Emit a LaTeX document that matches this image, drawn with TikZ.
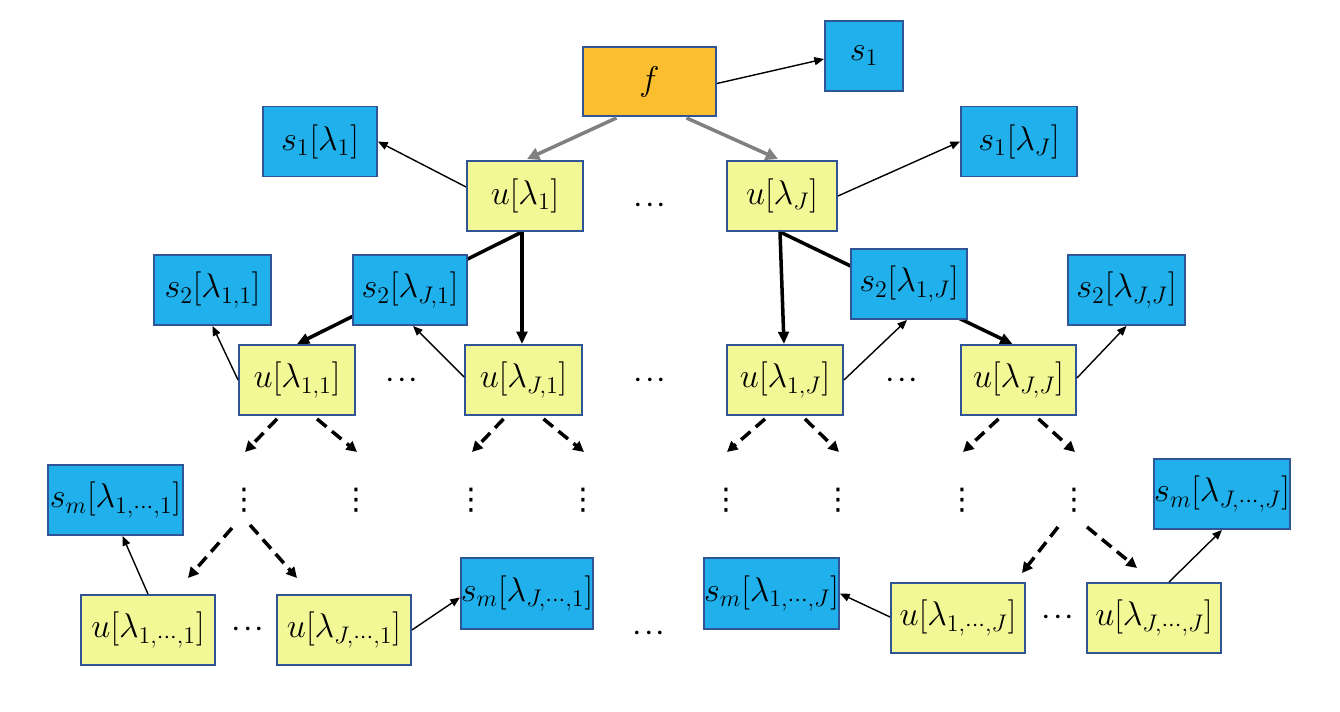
\RequirePackage{fix-cm}
\documentclass[tikz,border=0pt]{standalone}
\usepackage{amsmath}
\usepackage{fontspec}
\newfontfamily\symfont{DejaVu Sans}
\usepackage{xcolor}
\definecolor{BoxBorder}{RGB}{47,85,151}
\definecolor{FillSky}{RGB}{32,176,236}
\definecolor{FillLemon}{RGB}{242,248,150}
\definecolor{FillGold}{RGB}{251,190,46}
\definecolor{ArrowGray}{RGB}{128,128,128}
\usepackage{tikz}
\usetikzlibrary{
  arrows.meta,
  positioning, backgrounds
}
% tight dots
\newcommand{\rowdots}{{\cdot}\mkern1mu{\cdot}\mkern1mu{\cdot}}
\newcommand{\subdots}{{\cdot}{\cdot}{\cdot}}
\tikzset{
  % Generic box
  vbox/.style={
    rectangle,
    draw=BoxBorder, line width=1.1pt,
    minimum width=2.32cm, minimum height=1.4cm,
    inner sep=0pt,
    font=\fontsize{19.5}{23}\selectfont
  },
  % Colored box variants
  sbox/.style={vbox, fill=FillSky},
  ubox/.style={vbox, fill=FillLemon},
  topbox/.style={vbox, fill=FillGold, minimum width=2.66cm, minimum height=1.38cm},
  % Dots
  dotnode/.style={inner sep=0pt, font=\fontsize{19.5}{23}\selectfont},
  vdotnode/.style={inner sep=0pt, font=\fontsize{17}{20}\symfont},
  % Arrows
  arr/.style={-{Triangle[length=5.5pt,width=4.5pt]}, line width=0.8pt},
  barr/.style={-{Triangle[length=7pt,width=6pt]}, line width=2pt},
  garr/.style={-{Triangle[length=7pt,width=7pt]}, line width=2pt, ArrowGray},
  darr/.style={-{Triangle[length=6pt,width=6pt]}, line width=2pt, dash pattern=on 7pt off 4pt},
}

\begin{document}
\begin{tikzpicture}[x=0.02cm, y=-0.02cm]
  \useasboundingbox (0,0) rectangle (1340,712);

  % top
  \node[topbox] (f) at (649.5,81.5) {$f$};
  \node[sbox, minimum width=1.56cm] (s1) at (864,56) {$s_1$};
  \node[sbox, minimum width=2.28cm] (s1a) at (320,141.5) {$s_1[\lambda_1]$};
  \node[sbox] (s1b) at (1019,141.5) {$s_1[\lambda_J]$};
  \node[ubox] (u1) at (525,196) {$u[\lambda_1]$};
  \node[ubox, minimum width=2.2cm] (uJ) at (782,196) {$u[\lambda_J]$};
  \node[dotnode] (c0) at (650,206) {$\rowdots$};

  % second level
  \node[sbox, minimum width=2.34cm] (s2a) at (212.5,290) {$s_2[\lambda_{1,1}]$};
  \node[sbox, minimum width=2.28cm] (s2b) at (410,290) {$s_2[\lambda_{J,1}]$};
  \node[sbox] (s2c) at (909,284) {$s_2[\lambda_{1,J}]$};
  \node[sbox, minimum width=2.34cm] (s2d) at (1126.5,290) {$s_2[\lambda_{J,J}]$};
  \node[ubox] (u11) at (297,380) {$u[\lambda_{1,1}]$};
  \node[ubox, minimum width=2.34cm] (uJ1) at (523.5,380) {$u[\lambda_{J,1}]$};
  \node[ubox] (u1J) at (785,380) {$u[\lambda_{1,J}]$};
  \node[ubox, minimum width=2.3cm] (uJJ) at (1018.5,380) {$u[\lambda_{J,J}]$};
  \node[dotnode] (c1) at (402,381) {$\rowdots$};
  \node[dotnode] (c2) at (650,381) {$\rowdots$};
  \node[dotnode] (c3) at (902,381) {$\rowdots$};

  % vertical dots
  \foreach \n/\x in {1/244, 2/356, 3/471, 4/583, 5/726, 6/838, 7/962, 8/1074}
    \node[vdotnode] (d\n) at (\x,500) {⋮};

  % last level
  \node[sbox, minimum width=2.7cm] (sm1) at (115.5,500) {$s_m[\lambda_{1,\subdots,1}]$};
  \node[ubox, minimum width=2.68cm] (um1) at (148,630) {$u[\lambda_{1,\subdots,1}]$};
  \node[ubox, minimum width=2.68cm] (umJ1) at (344,630) {$u[\lambda_{J,\subdots,1}]$};
  \node[sbox, minimum width=2.64cm, minimum height=1.42cm] (smJ1) at (527,593.5) {$s_m[\lambda_{J,\subdots,1}]$};
  \node[sbox, minimum width=2.7cm, minimum height=1.42cm] (sm1J) at (771.5,593.5) {$s_m[\lambda_{1,\subdots,J}]$};
  \node[ubox, minimum width=2.68cm] (um1J) at (958,618) {$u[\lambda_{1,\subdots,J}]$};
  \node[ubox, minimum width=2.68cm] (umJJ) at (1154,618) {$u[\lambda_{J,\subdots,J}]$};
  \node[sbox, minimum width=2.68cm] (smJJ) at (1222,494) {$s_m[\lambda_{J,\subdots,J}]$};
  \node[dotnode] (c4) at (248,630) {$\rowdots$};
  \node[dotnode] (c5) at (649,634) {$\rowdots$};
  \node[dotnode] (c6) at (1058,618) {$\rowdots$};

  % arrows from f
  \draw[arr] ([shift={(0,2)}]f.east) -- ([shift={(0,3)}]s1.west);
  \draw[garr] ([shift={(-33,1)}]f.south) -- ([shift={(2,-1)}]u1.north);
  \draw[garr] ([shift={(37,1)}]f.south) -- ([shift={(-4,-1)}]uJ.north);
  \draw[arr] ([shift={(0,-9)}]u1.west) -- (s1a.east);
  \draw[arr] (uJ.east) -- (s1b.west);

  % thick arrows, two of them pass behind the s2 boxes
  \draw[barr] ([shift={(-3,0)}]u1.south) -- ([shift={(-1.5,0)}]uJ1.north);
  \draw[barr] ([shift={(-2,0)}]uJ.south) -- ([shift={(-1,0)}]u1J.north);
  \begin{scope}[on background layer]
    \draw[barr] ([shift={(-3,0)}]u1.south) -- (u11.north);
    \draw[barr] ([shift={(-2,0)}]uJ.south) -- ([shift={(-6,0)}]uJJ.north);
  \end{scope}

  \draw[arr] (u11.west) -- (s2a.south);
  \draw[arr] ([shift={(0,-3)}]uJ1.west) -- ([shift={(3,0)}]s2b.south);
  \draw[arr] (u1J.east) -- ([shift={(-2,0)}]s2c.south);
  \draw[arr] ([shift={(0,-2)}]uJJ.east) -- (s2d.south);

  % dashed arrows down to the dots
  \foreach \u/\l/\r in {u11/d1/d2, uJ1/d3/d4, u1J/d5/d6, uJJ/d7/d8} {
    \draw[darr] ([shift={(-20,3)}]\u.south) -- ([shift={(1,-48)}]\l.center);
    \draw[darr] ([shift={(20,3)}]\u.south) -- ([shift={(1,-48)}]\r.center);
  }
  \draw[darr] ([shift={(-12,28)}]d1.center) -- ([shift={(40,-52)}]um1.center);
  \draw[darr] ([shift={(6,25)}]d1.center) -- ([shift={(-47,-52)}]umJ1.center);
  \draw[darr] ([shift={(-16,27)}]d8.center) -- ([shift={(64,-45)}]um1J.center);
  \draw[darr] ([shift={(13,27)}]d8.center) -- ([shift={(-17,-50)}]umJJ.center);

  % last level arrows
  \draw[arr] (um1.north) -- ([shift={(7,0)}]sm1.south);
  \draw[arr] (umJ1.east) -- ([shift={(0,4)}]smJ1.west);
  \draw[arr] ([shift={(0,-1)}]um1J.west) -- (sm1J.east);
  \draw[arr] ([shift={(15,0)}]umJJ.north) -- (smJJ.south);
\end{tikzpicture}
\end{document}
